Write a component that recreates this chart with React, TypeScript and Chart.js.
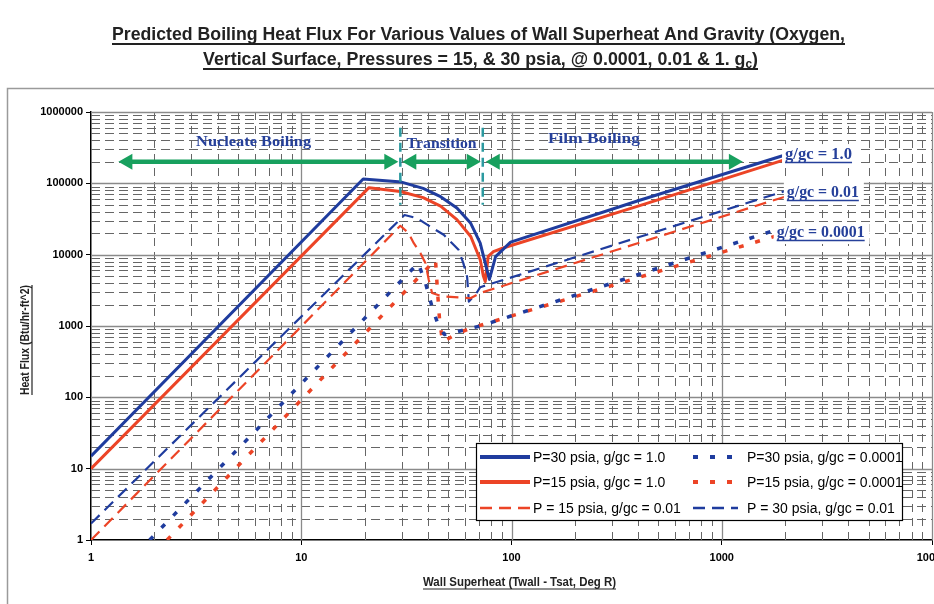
import React, { useEffect, useRef } from 'react';
import { Chart, registerables } from 'chart.js';

Chart.register(...registerables);

const BLUE = '#1f3c9e';
const RED = '#ec4426';
const GREEN = '#18a05e';
const TEAL = '#2b9aa0';
const NAVY = '#26409a';
const SANS = '"Liberation Sans", Arial, sans-serif';
const NARROW = '"Liberation Sans Narrow", "Liberation Sans", Arial, sans-serif';
const SERIF = '"Liberation Serif", "Times New Roman", serif';

// Axis decades (major ticks and labels)
const xDecades = [1, 10, 100, 1000, 10000];
const yDecades = [1, 10, 100, 1000, 10000, 100000, 1000000];

// P = 30 psia, g/gc = 1.0
const p30g1X = [1, 19.7, 30, 38, 46, 55, 64, 71, 75, 78.5, 84, 99, 400, 2000];
const p30g1Y = [15, 115000, 104000, 85000, 65000, 45000, 27500, 14500, 7600, 4500, 9400, 15000, 57000, 250000];

// P = 15 psia, g/gc = 1.0
const p15g1X = [1, 21, 29.6, 38, 46, 55, 64, 71, 73.5, 75, 77.5, 82, 92, 400, 2000];
const p15g1Y = [10, 87000, 77000, 63000, 48000, 31000, 18000, 8500, 5000, 4200, 9500, 11000, 12500, 48000, 215000];

// P = 15 psia, g/gc = 0.01
const p15g001X = [1, 29.6, 32.4, 34.3, 36.9, 39, 40.4, 41.9, 46.8, 63.8, 71, 2000];
const p15g001Y = [1, 25400, 20000, 14500, 10500, 7600, 4450, 2900, 2600, 2450, 2900, 65000];

// P = 30 psia, g/gc = 0.01
const p30g001X = [1, 31, 35.5, 41, 47.6, 56, 59, 61.5, 62.7, 68.7, 71, 2000];
const p30g001Y = [1.7, 36000, 32500, 24800, 19000, 11700, 7600, 4900, 2200, 3000, 3500, 78000];

// P = 30 psia, g/gc = 0.0001
const p30g00001X = [1.9, 36, 39, 42, 45, 48, 55, 64, 71, 2000];
const p30g00001Y = [1, 7600, 4000, 1800, 1000, 760, 830, 930, 1000, 24500];

// P = 15 psia, g/gc = 0.0001
const p15g00001X = [2.3, 43.5, 44.5, 45.5, 47, 52, 58, 64, 2000];
const p15g00001Y = [1, 8500, 3000, 1200, 600, 710, 830, 930, 20000];

// Boiling regime annotations (data coordinates)
const regimeNames = ['Nucleate Boiling', 'Transition', 'Film Boiling'];
const regimeLabelX = [3.16, 31.7, 149];
const regimeLabelY = [334000, 313000, 368000];
const regimeLabelW = [115, 70, 92];
const arrowY = 200000;
const arrowStartX = 1.35;
const regimeBoundsX = [29.6, 73];
const arrowEndX = 1260;
const boundTopY = 600000;
const boundBottomY = 50000;

// Gravity labels at the line ends
const gravityLabels = ['g/gc = 1.0', 'g/gc = 0.01', 'g/gc = 0.0001'];
const gravityLabelX = [2000, 2040, 1825];
const gravityLabelY = [219000, 64400, 17700];
const gravityLabelW = [67, 72, 88];

const titleLine1 = 'Predicted Boiling Heat Flux For Various Values of Wall Superheat And Gravity (Oxygen,';
const titleLine2 = 'Vertical Surface, Pressures = 15, & 30 psia, @ 0.0001, 0.01 & 1. g';
const xTitle = 'Wall Superheat (Twall - Tsat, Deg R)';
const yTitle = 'Heat Flux (Btu/hr-ft^2)';

const pts = (xs: number[], ys: number[]) => xs.map((x, i) => ({ x, y: ys[i] }));

const SOLID: number[] = [];
const DASH = [12, 7];
const DOT = [5, 12];

const series = [
  { label: 'P=30 psia, g/gc = 1.0', data: pts(p30g1X, p30g1Y), color: BLUE, dash: SOLID, width: 3 },
  { label: 'P=15 psia, g/gc = 1.0', data: pts(p15g1X, p15g1Y), color: RED, dash: SOLID, width: 3 },
  { label: 'P = 15 psia, g/gc = 0.01', data: pts(p15g001X, p15g001Y), color: RED, dash: DASH, width: 2.2 },
  { label: 'P=30 psia, g/gc = 0.0001', data: pts(p30g00001X, p30g00001Y), color: BLUE, dash: DOT, width: 3.5 },
  { label: 'P=15 psia, g/gc = 0.0001', data: pts(p15g00001X, p15g00001Y), color: RED, dash: DOT, width: 3.5 },
  { label: 'P = 30 psia, g/gc = 0.01', data: pts(p30g001X, p30g001Y), color: BLUE, dash: DASH, width: 2.2 },
];

function fitText(ctx: CanvasRenderingContext2D, text: string, x: number, y: number, width: number) {
  const w = ctx.measureText(text).width || 1;
  ctx.save();
  ctx.translate(x, y);
  ctx.scale(width / w, 1);
  ctx.fillText(text, 0, 0);
  ctx.restore();
}

function hline(ctx: CanvasRenderingContext2D, x1: number, x2: number, y: number, lw: number, color: string) {
  ctx.save();
  ctx.strokeStyle = color;
  ctx.lineWidth = lw;
  ctx.setLineDash([]);
  ctx.beginPath();
  ctx.moveTo(x1, y);
  ctx.lineTo(x2, y);
  ctx.stroke();
  ctx.restore();
}

function arrowHead(ctx: CanvasRenderingContext2D, tipX: number, y: number, dir: number) {
  const len = 14;
  const half = 8;
  ctx.beginPath();
  ctx.moveTo(tipX, y);
  ctx.lineTo(tipX - dir * len, y - half);
  ctx.lineTo(tipX - dir * len, y + half);
  ctx.closePath();
  ctx.fill();
}

function doubleArrow(ctx: CanvasRenderingContext2D, x1: number, x2: number, y: number) {
  ctx.save();
  ctx.strokeStyle = GREEN;
  ctx.fillStyle = GREEN;
  ctx.lineWidth = 4.5;
  ctx.beginPath();
  ctx.moveTo(x1 + 10, y);
  ctx.lineTo(x2 - 10, y);
  ctx.stroke();
  arrowHead(ctx, x1, y, -1);
  arrowHead(ctx, x2, y, 1);
  ctx.restore();
}

const gridPlugin = {
  id: 'logGrid',
  beforeDraw(chart: any) {
    const { ctx, width, height } = chart;
    ctx.save();
    ctx.fillStyle = '#fff';
    ctx.fillRect(0, 0, width, height);
    // outer frame
    ctx.strokeStyle = '#9a9a9a';
    ctx.lineWidth = 1.5;
    ctx.beginPath();
    ctx.moveTo(7.5, height);
    ctx.lineTo(7.5, 88.5);
    ctx.lineTo(width, 88.5);
    ctx.stroke();
    ctx.restore();
  },
  beforeDatasetsDraw(chart: any) {
    const { ctx, chartArea: a } = chart;
    const xs = chart.scales.x;
    const ys = chart.scales.y;
    ctx.save();
    // minor grid
    ctx.strokeStyle = '#666';
    ctx.lineWidth = 1;
    ctx.setLineDash([8, 6]);
    for (const d of xDecades.slice(0, -1)) {
      for (let k = 2; k <= 9; k++) {
        const px = Math.round(xs.getPixelForValue(d * k)) + 0.5;
        ctx.beginPath();
        ctx.moveTo(px, a.top);
        ctx.lineTo(px, a.bottom);
        ctx.stroke();
      }
    }
    ctx.setLineDash([9, 5]);
    for (const d of yDecades.slice(0, -1)) {
      for (let k = 2; k <= 9; k++) {
        const py = Math.round(ys.getPixelForValue(d * k)) + 0.5;
        ctx.beginPath();
        ctx.moveTo(a.left, py);
        ctx.lineTo(a.right, py);
        ctx.stroke();
      }
    }
    // major grid
    ctx.setLineDash([]);
    ctx.strokeStyle = '#8a8a8a';
    ctx.lineWidth = 1.3;
    for (const d of xDecades.slice(1)) {
      const px = Math.round(xs.getPixelForValue(d)) + 0.5;
      ctx.beginPath();
      ctx.moveTo(px, a.top);
      ctx.lineTo(px, a.bottom);
      ctx.stroke();
    }
    for (const d of yDecades.slice(1)) {
      const py = Math.round(ys.getPixelForValue(d)) + 0.5;
      ctx.beginPath();
      ctx.moveTo(a.left, py);
      ctx.lineTo(a.right, py);
      ctx.stroke();
    }
    ctx.restore();
  },
  afterDatasetsDraw(chart: any) {
    const { ctx } = chart;
    const xs = chart.scales.x;
    const ys = chart.scales.y;
    const X = (v: number) => xs.getPixelForValue(v);
    const Y = (v: number) => ys.getPixelForValue(v);

    ctx.save();
    // regime boundaries
    ctx.strokeStyle = TEAL;
    ctx.lineWidth = 2.5;
    ctx.setLineDash([9, 6]);
    for (const b of regimeBoundsX) {
      ctx.beginPath();
      ctx.moveTo(X(b), Y(boundTopY));
      ctx.lineTo(X(b), Y(boundBottomY));
      ctx.stroke();
    }
    ctx.setLineDash([]);
    // regime arrows
    const ay = Y(arrowY);
    doubleArrow(ctx, X(arrowStartX), X(regimeBoundsX[0]) - 2, ay);
    doubleArrow(ctx, X(regimeBoundsX[0]) + 2, X(regimeBoundsX[1]) - 2, ay);
    doubleArrow(ctx, X(regimeBoundsX[1]) + 3, X(arrowEndX), ay);

    // regime names
    ctx.fillStyle = NAVY;
    ctx.font = `bold 15px ${SERIF}`;
    ctx.textAlign = 'left';
    ctx.textBaseline = 'alphabetic';
    regimeNames.forEach((t, i) => fitText(ctx, t, X(regimeLabelX[i]), Y(regimeLabelY[i]), regimeLabelW[i]));

    // gravity labels
    ctx.font = `bold 16px ${SERIF}`;
    gravityLabels.forEach((t, i) => {
      const lx = X(gravityLabelX[i]);
      const by = Y(gravityLabelY[i]);
      const w = gravityLabelW[i];
      ctx.fillStyle = '#fff';
      ctx.fillRect(lx - 3, by - 15, w + 8, 22);
      ctx.fillStyle = NAVY;
      fitText(ctx, t, lx, by, w);
      hline(ctx, lx, lx + w, by + 3.5, 1.5, NAVY);
    });
    ctx.restore();

    // legend
    const lb = { left: 476, top: 443, width: 426, height: 77 };
    ctx.save();
    ctx.fillStyle = '#fff';
    ctx.fillRect(lb.left, lb.top, lb.width, lb.height);
    ctx.strokeStyle = '#000';
    ctx.lineWidth = 1.2;
    ctx.strokeRect(lb.left + 0.5, lb.top + 0.5, lb.width, lb.height);
    const rows = [457, 482, 508];
    const cols = [
      { x1: 480, x2: 530, tx: 533 },
      { x1: 693, x2: 738, tx: 747 },
    ];
    ctx.font = `14px ${SANS}`;
    ctx.textBaseline = 'middle';
    ctx.textAlign = 'left';
    series.forEach((s, i) => {
      const c = cols[Math.floor(i / 3)];
      const ry = rows[i % 3];
      ctx.strokeStyle = s.color;
      ctx.lineWidth = s.dash === SOLID ? 4 : s.dash === DOT ? 4 : 2.5;
      ctx.setLineDash(s.dash);
      ctx.beginPath();
      ctx.moveTo(c.x1, ry);
      ctx.lineTo(c.x2, ry);
      ctx.stroke();
      ctx.setLineDash([]);
      ctx.fillStyle = '#000';
      ctx.fillText(s.label, c.tx, ry + 1);
    });
    ctx.restore();
  },
  afterDraw(chart: any) {
    const { ctx } = chart;
    ctx.save();
    ctx.fillStyle = '#222';
    ctx.textAlign = 'left';
    ctx.textBaseline = 'alphabetic';
    // title line 1
    ctx.font = `bold 18px ${NARROW}`;
    fitText(ctx, titleLine1, 112, 40, 733);
    hline(ctx, 112, 845, 44, 1.8, '#222');
    // title line 2 with subscript c
    const mainFont = `bold 18px ${NARROW}`;
    const subFont = `bold 12px ${NARROW}`;
    ctx.font = mainFont;
    const w1 = ctx.measureText(titleLine2).width;
    const w3 = ctx.measureText(')').width;
    ctx.font = subFont;
    const w2 = ctx.measureText('c').width;
    const total = w1 + w2 + w3;
    const target = 555;
    const sx = target / total;
    ctx.save();
    ctx.translate(203, 65);
    ctx.scale(sx, 1);
    ctx.font = mainFont;
    ctx.fillText(titleLine2, 0, 0);
    ctx.font = subFont;
    ctx.fillText('c', w1, 3);
    ctx.font = mainFont;
    ctx.fillText(')', w1 + w2, 0);
    ctx.restore();
    hline(ctx, 203, 758, 69, 1.8, '#222');

    // x axis title
    ctx.font = `bold 12px ${NARROW}`;
    fitText(ctx, xTitle, 423, 586, 193);
    hline(ctx, 423, 616, 589, 1.2, '#222');

    // y axis title
    ctx.save();
    ctx.translate(29, 395);
    ctx.rotate(-Math.PI / 2);
    ctx.font = `bold 12px ${NARROW}`;
    fitText(ctx, yTitle, 0, 0, 110);
    hline(ctx, 0, 110, 3, 1.2, '#222');
    ctx.restore();
    ctx.restore();
  },
};

export default function App() {
  const canvasRef = useRef<HTMLCanvasElement | null>(null);

  useEffect(() => {
    const canvas = canvasRef.current;
    if (!canvas) return;
    const tickFont = { family: SANS, size: 11, weight: 'bold' as const };
    const chart = new Chart(canvas, {
      type: 'line',
      data: {
        datasets: series.map((s) => ({
          label: s.label,
          data: s.data,
          borderColor: s.color,
          backgroundColor: s.color,
          borderWidth: s.width,
          borderDash: s.dash,
          pointRadius: 0,
          tension: 0,
          fill: false,
          borderCapStyle: 'butt' as const,
          borderJoinStyle: 'round' as const,
        })),
      },
      options: {
        responsive: false,
        devicePixelRatio: 1,
        animation: false,
        layout: { padding: { top: 112, right: 2, bottom: 0, left: 0 } },
        plugins: {
          legend: { display: false },
          title: { display: false },
          tooltip: { enabled: false },
        },
        scales: {
          x: {
            type: 'logarithmic',
            position: 'bottom',
            min: 1,
            max: 10000,
            afterBuildTicks: (scale: any) => {
              scale.ticks = xDecades.map((v) => ({ value: v, major: true }));
            },
            afterFit: (scale: any) => {
              scale.height = 64;
              scale.paddingLeft = 0;
              scale.paddingRight = 0;
            },
            ticks: {
              autoSkip: false,
              maxRotation: 0,
              padding: 6,
              color: '#000',
              font: tickFont,
              callback: (v: any) => String(v),
            },
            grid: { drawOnChartArea: false, drawTicks: true, tickLength: 5, color: '#000' },
            border: { display: true, color: '#000', width: 1.5 },
          },
          y: {
            type: 'logarithmic',
            position: 'left',
            min: 1,
            max: 1000000,
            afterBuildTicks: (scale: any) => {
              scale.ticks = yDecades.map((v) => ({ value: v, major: true }));
            },
            afterFit: (scale: any) => {
              scale.width = 91;
              scale.paddingTop = 0;
              scale.paddingBottom = 0;
            },
            ticks: {
              autoSkip: false,
              padding: 3,
              color: '#000',
              font: tickFont,
              callback: (v: any) => String(v),
            },
            grid: { drawOnChartArea: false, drawTicks: true, tickLength: 5, color: '#000' },
            border: { display: true, color: '#000', width: 1.5 },
          },
        },
      },
      plugins: [gridPlugin],
    });
    return () => chart.destroy();
  }, []);

  return (
    <div style={{ position: 'absolute', left: 0, top: 0, width: 934, height: 604, background: '#fff' }}>
      <canvas ref={canvasRef} width={934} height={604} style={{ display: 'block' }} />
    </div>
  );
}
